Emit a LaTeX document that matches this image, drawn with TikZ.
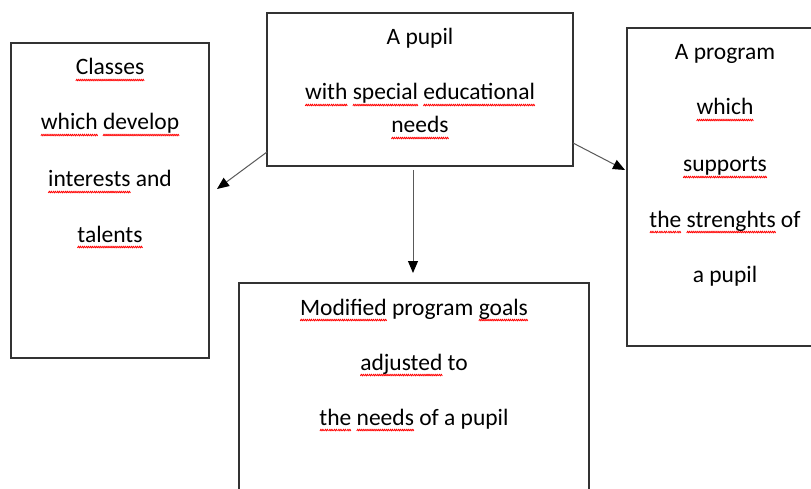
\documentclass[tikz,border=0pt]{standalone}
\usepackage{fontspec}
\setmainfont{Carlito}
\usetikzlibrary{arrows.meta,calc}
\newsavebox\wavebox
\newcommand\sqw[1]{\leavevmode\setbox0\hbox{#1}\rlap{\lower6pt\hbox to \wd0{\xleaders\copy\wavebox\hfill}}\box0\relax}
\begin{document}
\sbox\wavebox{\begin{pgfpicture}%
  \pgfsetstrokecolor{red}%
  \pgfsetlinewidth{0.75pt}%
  \pgfsetroundjoin%
  \pgfpathmoveto{\pgfpoint{0pt}{0pt}}%
  \pgfpathlineto{\pgfpoint{1pt}{1.9pt}}%
  \pgfpathlineto{\pgfpoint{2pt}{0pt}}%
  \pgfpathlineto{\pgfpoint{3pt}{1.9pt}}%
  \pgfpathlineto{\pgfpoint{4pt}{0pt}}%
  \pgfusepath{stroke}%
  \pgfresetboundingbox%
  \pgfpathrectangle{\pgfpointorigin}{\pgfpoint{4pt}{1.9pt}}%
  \pgfusepath{use as bounding box}%
\end{pgfpicture}}%
\begin{tikzpicture}[x=1pt,y=-1pt,
  box/.style={draw=black!80,line width=1.1pt,inner sep=0pt,outer sep=0pt},
  txt/.style={anchor=base,inner sep=0pt,font=\fontsize{23.5}{28}\selectfont,text=black},
  arr/.style={draw=black!65,line width=1pt,-{Triangle[length=12pt,width=10pt,color=black]}}]
\useasboundingbox (0,0) rectangle (811,489);
\clip (0,0) rectangle (811,489);
\fill[white] (0,0) rectangle (811,489);
% boxes
\node[box,anchor=north west,minimum width=306pt,minimum height=153pt] (pupil) at (267,13) {};
\node[box,anchor=north west,minimum width=198pt,minimum height=315pt] (classes) at (11,43) {};
\node[box,anchor=north west,minimum width=196pt,minimum height=318pt] (program) at (627,28) {};
\node[box,anchor=north west,minimum width=350pt,minimum height=230pt] (goals) at (239,283) {};
% centre box text
\node[txt] (p1) at (420,45) {A pupil};
\node[txt] (p2) at (420,100) {\sqw{with} \sqw{special} \sqw{educational}};
\node[txt] (p3) at (420,133) {\sqw{needs}};
% left box text
\node[txt] (c1) at (110,75) {\sqw{Classes}};
\node[txt] (c2) at (110,130) {\sqw{which} \sqw{develop}};
\node[txt] (c3) at (110,187) {\sqw{interests} and};
\node[txt] (c4) at (110,242) {\sqw{talents}};
% right box text
\node[txt] (r1) at (725,60) {A program};
\node[txt] (r2) at (725,115) {\sqw{which}};
\node[txt] (r3) at (725,172) {\sqw{supports}};
\node[txt] (r4) at (725,227) {\sqw{the} \sqw{strenghts} of};
\node[txt] (r5) at (725,282) {a pupil};
% bottom box text
\node[txt] (g1) at (414,315) {\sqw{Modified} program \sqw{goals}};
\node[txt] (g2) at (414,370) {\sqw{adjusted} to};
\node[txt] (g3) at (414,425) {\sqw{the} \sqw{needs} of a pupil};
% arrows
\draw[arr] ($(pupil.south west)+(0,-14)$) -- ($(classes.north east)+(8,146)$);
\draw[arr] ($(pupil.south east)+(0,-23)$) -- ($(program.north west)+(-2,142)$);
\draw[arr] ($(pupil.south)+(-7,4)$) -- ($(goals.north)+(-1,-10)$);
\end{tikzpicture}
\end{document}
